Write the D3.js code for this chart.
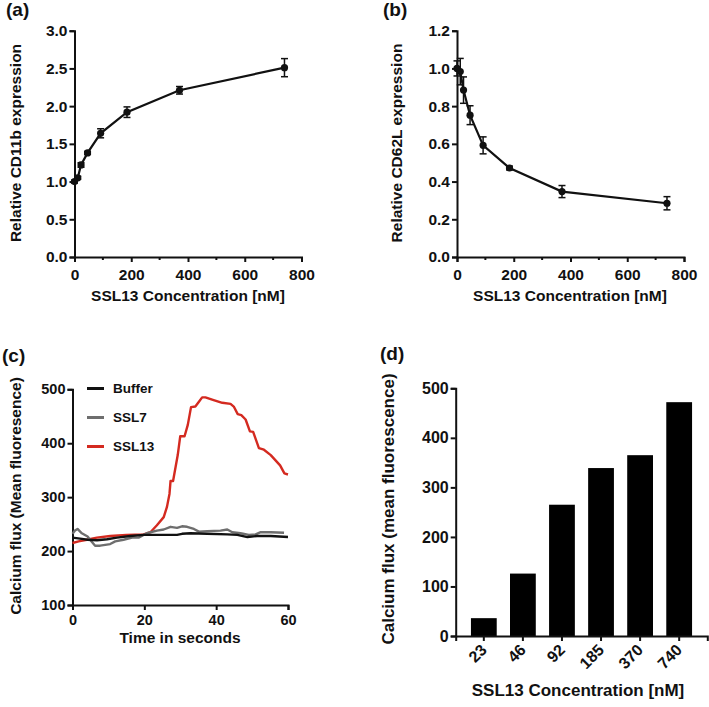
<!DOCTYPE html>
<html>
<head>
<meta charset="utf-8">
<script src="https://cdn.jsdelivr.net/npm/d3@7"></script>
<style>
  html, body { margin: 0; padding: 0; background: #fff; }
  svg { display: block; }
  text { font-family: "Liberation Sans", Arial, sans-serif; font-weight: bold; fill: #111; }
</style>
</head>
<body>
<svg id="chart" width="709" height="707"></svg>
<script>
// ---------- DATA ----------
const concentrations = [0, 11.5, 23, 46, 92, 185, 370, 740];
const cd11b = [1.00, 1.05, 1.22, 1.38, 1.64, 1.92, 2.21, 2.51];
const cd11bErr = [0.02, 0.02, 0.03, 0.02, 0.06, 0.07, 0.05, 0.12];
const cd62l = [1.00, 0.983, 0.885, 0.752, 0.592, 0.472, 0.347, 0.285];
const cd62lErr = [0.04, 0.07, 0.07, 0.05, 0.045, 0.01, 0.032, 0.035];

const bufferTime = [0, 2.1, 4.2, 6.8, 9.6, 12.4, 16.1, 19.8, 24.5, 27.3, 29.1, 30.5, 32.8, 37.5, 43.1, 45.9, 48.7, 51.4, 55.2, 60];
const bufferFlux = [225, 223, 221, 220, 222, 225, 228, 230, 230, 230, 230, 232, 233, 232, 231, 230, 226, 228, 228, 226];

const ssl7Time = [0, 0.7, 1.4, 2.6, 4.2, 4.9, 6.3, 7.7, 10.5, 11.9, 14.2, 16.6, 18.4, 20.7, 23.5, 25.4, 27.3, 29.1, 30.5, 31.9, 33.8, 35.2, 37.5, 41.2, 43.1, 44.5, 46.8, 49.1, 51, 52.4, 55.2, 58.9];
const ssl7Flux = [232, 238, 241, 233, 227, 221, 210, 210, 213, 218, 221, 225, 225, 233, 238, 240, 245, 243, 246, 245, 241, 236, 237, 238, 240, 235, 233, 230, 231, 235, 235, 234];

const ssl13Time = [0, 1.7, 4, 6.8, 10.5, 15, 19.8, 21.7, 23.5, 25.4, 26.3, 27, 27.3, 28, 28.7, 29.3, 30, 31.2, 32.1, 33, 34.2, 35.2, 36.1, 37, 39.3, 41.7, 44, 44.9, 46, 47, 48.2, 49.4, 50.3, 51.9, 53.3, 55.2, 57.8, 59, 60];
const ssl13Flux = [215, 218, 221, 225, 228, 230, 231, 235, 248, 263, 282, 306, 330, 330, 356, 378, 413, 413, 434, 467, 468, 477, 485, 485, 480, 475, 473, 468, 454, 452, 444, 422, 421, 391, 388, 378, 359, 344, 342];

const seriesNames = ["Buffer", "SSL7", "SSL13"];
const seriesColors = ["#111111", "#6e6e6e", "#d42a20"];

const barCategories = ["23", "46", "92", "185", "370", "740"];
const barValues = [36, 126, 265, 339, 365, 472];

const ticksConcX = [0, 200, 400, 600, 800];
const minorConcX = [100, 300, 500, 700];
const ticksA = [0, 0.5, 1.0, 1.5, 2.0, 2.5, 3.0];
const ticksB = [0, 0.2, 0.4, 0.6, 0.8, 1.0, 1.2];
const ticksTime = [0, 20, 40, 60];
const ticksFlux = [100, 200, 300, 400, 500];
const ticksBar = [0, 100, 200, 300, 400, 500];

// ---------- DRAWING ----------
const svg = d3.select("#chart");
const FS = 15.5;

function styleAxis(g, fs) {
  g.selectAll("path.domain").attr("stroke", "#111").attr("stroke-width", 2);
  g.selectAll(".tick line").attr("stroke", "#111").attr("stroke-width", 2);
  g.selectAll(".tick text").style("font-size", (fs || FS) + "px").style("font-family", '"Liberation Sans", Arial, sans-serif').style("font-weight", "bold").attr("fill", "#111");
}

function label(x, y, txt, size, anchor, rot) {
  const t = svg.append("text").attr("x", x).attr("y", y).text(txt)
    .style("font-size", size + "px").attr("text-anchor", anchor || "start");
  if (rot) t.attr("transform", `rotate(${rot},${x},${y})`);
  return t;
}

function dosePanel(x0, x1, yTop, yBot, yMax, yTicks, vals, errs) {
  const x = d3.scaleLinear().domain([0, 800]).range([x0, x1]);
  const y = d3.scaleLinear().domain([0, yMax]).range([yBot, yTop]);
  const gx = svg.append("g").attr("transform", `translate(0,${yBot})`)
    .call(d3.axisBottom(x).tickValues(ticksConcX).tickSizeOuter(0).tickSize(5).tickPadding(7).tickFormat(d3.format("d")));
  styleAxis(gx);
  svg.append("g").attr("transform", `translate(0,${yBot})`)
    .selectAll("line").data(minorConcX).join("line")
    .attr("x1", d => x(d)).attr("x2", d => x(d)).attr("y1", 0).attr("y2", 3)
    .attr("stroke", "#111").attr("stroke-width", 2);
  const gy = svg.append("g").attr("transform", `translate(${x0},0)`)
    .call(d3.axisLeft(y).tickValues(yTicks).tickSizeOuter(0).tickSize(5).tickPadding(2).tickFormat(d3.format(".1f")));
  styleAxis(gy);
  const pts = concentrations.map((c, i) => ({ c, v: vals[i], e: errs[i] }));
  const eg = svg.append("g").attr("stroke", "#111").attr("stroke-width", 1.5);
  pts.forEach(p => {
    const cx = x(p.c), yl = y(p.v - p.e), yh = y(p.v + p.e);
    eg.append("line").attr("x1", cx).attr("x2", cx).attr("y1", yl).attr("y2", yh);
    eg.append("line").attr("x1", cx - 3.5).attr("x2", cx + 3.5).attr("y1", yl).attr("y2", yl);
    eg.append("line").attr("x1", cx - 3.5).attr("x2", cx + 3.5).attr("y1", yh).attr("y2", yh);
  });
  svg.append("path").datum(pts)
    .attr("d", d3.line().x(d => x(d.c)).y(d => y(d.v)))
    .attr("fill", "none").attr("stroke", "#111").attr("stroke-width", 2.2);
  svg.append("g").selectAll("circle").data(pts).join("circle")
    .attr("cx", d => x(d.c)).attr("cy", d => y(d.v)).attr("r", 3.6).attr("fill", "#111");
}

// (a)
dosePanel(74.5, 301.5, 30.7, 257, 3.0, ticksA, cd11b, cd11bErr);
label(6, 16, "(a)", 19);
label(16, 143, "Relative CD11b expression", FS, "middle", -90).attr("dy", "0.35em");
label(188, 301, "SSL13 Concentration [nM]", FS, "middle");

// (b)
dosePanel(457, 684, 30.7, 257, 1.2, ticksB, cd62l, cd62lErr);
label(383, 16, "(b)", 19);
label(397, 143, "Relative CD62L expression", FS, "middle", -90).attr("dy", "0.35em");
label(570, 301, "SSL13 Concentration [nM]", FS, "middle");

// (c) time course
{
  const x = d3.scaleLinear().domain([0, 60]).range([72.5, 288]);
  const y = d3.scaleLinear().domain([100, 500]).range([605, 389.3]);
  const gx = svg.append("g").attr("transform", "translate(0,605)")
    .call(d3.axisBottom(x).tickValues(ticksTime).tickSizeOuter(0).tickSize(5).tickPadding(5));
  styleAxis(gx, 14.5);
  const gy = svg.append("g").attr("transform", "translate(72.5,0)")
    .call(d3.axisLeft(y).tickValues(ticksFlux).tickSizeOuter(0).tickSize(5).tickPadding(2));
  styleAxis(gy, 14.5);
  const series = [
    { t: bufferTime, v: bufferFlux },
    { t: ssl7Time, v: ssl7Flux },
    { t: ssl13Time, v: ssl13Flux }
  ];
  const line = d3.line().x(d => x(d[0])).y(d => y(d[1]));
  [2, 1, 0].forEach(i => {
    const s = series[i];
    svg.append("path").datum(s.t.map((t, k) => [t, s.v[k]]))
      .attr("d", line).attr("fill", "none")
      .attr("stroke", seriesColors[i]).attr("stroke-width", 2.4)
      .attr("stroke-linejoin", "round");
  });
  const legY = [388.5, 417.5, 446.5];
  seriesNames.forEach((n, i) => {
    svg.append("line").attr("x1", 87).attr("x2", 104).attr("y1", legY[i]).attr("y2", legY[i])
      .attr("stroke", seriesColors[i]).attr("stroke-width", 3);
    label(113, legY[i], n, 13.5).attr("dy", "0.35em");
  });
  label(2, 362, "(c)", 19);
  label(16, 496, "Calcium flux (Mean fluoresence)", FS, "middle", -90).attr("dy", "0.35em");
  label(180, 643, "Time in seconds", FS, "middle");
}

// (d) bars
{
  const x = d3.scaleBand().domain(barCategories).range([455.7, 707.3]).paddingInner(0.34).paddingOuter(0.39);
  const y = d3.scaleLinear().domain([0, 500]).range([636, 388.3]);
  svg.append("g").selectAll("rect").data(barCategories).join("rect")
    .attr("x", d => x(d)).attr("width", x.bandwidth())
    .attr("y", (d, i) => y(barValues[i])).attr("height", (d, i) => y(0) - y(barValues[i]))
    .attr("fill", "#000");
  const gx = svg.append("g").attr("transform", "translate(0,636)")
    .call(d3.axisBottom(x).tickSizeOuter(0).tickSize(5).tickPadding(4));
  styleAxis(gx, 16);
  gx.selectAll(".tick text").attr("text-anchor", "end")
    .attr("transform", "translate(4,15) rotate(-45)").attr("dy", "0").attr("y", 0).attr("x", 0);
  const gy = svg.append("g").attr("transform", "translate(455.7,0)")
    .call(d3.axisLeft(y).tickValues(ticksBar).tickSizeOuter(0).tickSize(5).tickPadding(2));
  styleAxis(gy, 16);
  label(380, 360, "(d)", 19);
  label(388, 509, "Calcium flux (mean fluorescence)", 17, "middle", -90).attr("dy", "0.35em");
  label(578, 696, "SSL13 Concentration [nM]", 17, "middle");
}
</script>
</body>
</html>
